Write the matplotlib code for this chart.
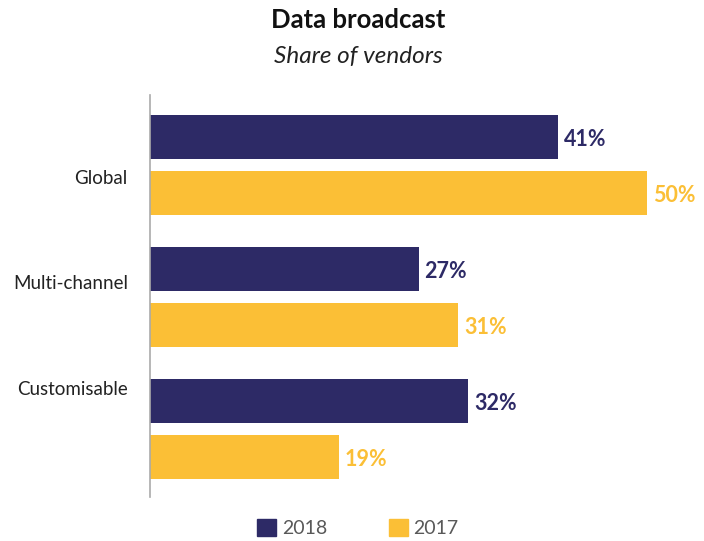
import matplotlib.pyplot as plt
import numpy as np
from matplotlib.patches import Patch

# Data
categories = ['Global', 'Multi-channel', 'Customisable']
values_2018 = [41, 27, 32]
values_2017 = [50, 31, 19]
series_names = ['2018', '2017']

navy = '#2d2a66'
yellow = '#fbbf36'

plt.rcParams['font.family'] = ['Lato', 'DejaVu Sans']

fig = plt.figure(figsize=(7.04, 5.41), dpi=100)
ax = fig.add_axes([150 / 704, 1 - 497 / 541, 550 / 704, 402 / 541])

y = np.arange(len(categories))
offset = 0.212
height = 0.34

bars18 = ax.barh(y - offset, values_2018, height=height, color=navy)
bars17 = ax.barh(y + offset, values_2017, height=height, color=yellow)

for bars, vals, col in [(bars18, values_2018, navy), (bars17, values_2017, yellow)]:
    for b, v in zip(bars, vals):
        ax.text(b.get_width() + 0.6, b.get_y() + b.get_height() / 2 + 0.02, f'{v}%',
                ha='left', va='center', fontsize=15.5, fontweight='bold', color=col)

ax.set_xlim(0, 55.3)
ax.set_ylim(2.515, -0.53)

# category labels sit a bit off the group centres in the original
ax.set_yticks(y * 0.8 + 0.09)
ax.set_yticklabels(categories, fontsize=13.5, color='#222222')
ax.tick_params(axis='y', length=0, pad=16)
ax.set_xticks([])

for s in ['top', 'right', 'bottom']:
    ax.spines[s].set_visible(False)
ax.spines['left'].set_color('#aaaaaa')
ax.spines['left'].set_linewidth(1.2)

fig.text(358 / 704, 1 - 20 / 541, 'Data broadcast', ha='center', va='center',
         fontsize=18.5, fontweight='bold', color='#111111')
fig.text(358 / 704, 1 - 56 / 541, 'Share of vendors', ha='center', va='center',
         fontsize=17.5, style='italic', color='#222222')

handles = [Patch(color=navy), Patch(color=yellow)]
fig.legend(handles, series_names, loc='center', bbox_to_anchor=(358 / 704, 1 - 528 / 541),
           ncol=2, frameon=False, fontsize=14, labelcolor='#595959',
           handlelength=0.95, handleheight=0.95, handletextpad=0.3, columnspacing=3.2)

plt.savefig('out.png', dpi=100)
